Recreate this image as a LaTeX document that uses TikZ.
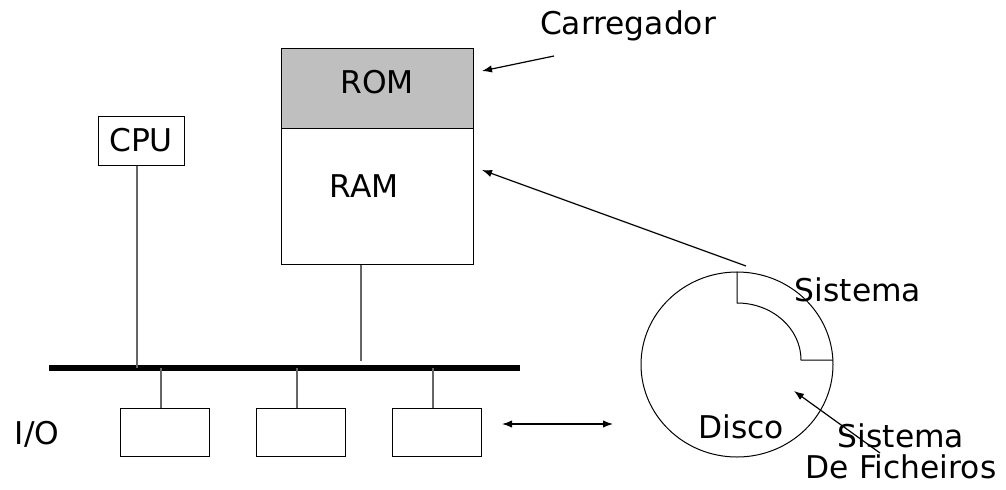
\documentclass[tikz,border=0pt]{standalone}
\usepackage{fontspec}
\setmainfont{DejaVu Sans}
\usetikzlibrary{arrows.meta,shapes.geometric}
\begin{document}
\begin{tikzpicture}[x=0.75pt,y=-0.75pt,
  every node/.style={font=\fontsize{23.5}{23.25}\selectfont, inner sep=0pt},
  box/.style={draw, line width=0.75pt, rectangle},
  wire/.style={line width=0.9pt, black!60},
  ptr/.style={line width=0.9pt, -{Latex[length=7.5pt,width=5.5pt]}},
  dptr/.style={line width=0.9pt, {Latex[length=7.5pt,width=5.5pt]}-{Latex[length=7.5pt,width=5.5pt]}}]
\useasboundingbox (0,0) rectangle (1006,489);

% memory: ROM on top of RAM
\node[box, fill=black!25, minimum width=144pt, minimum height=60pt] (rom) at (377,88) {};
\node (romlabel) at (377,82) {ROM};
\node[box, minimum width=144pt, minimum height=102pt] (ram) at (377,196) {};
\node (ramlabel) at (364,186) {RAM};

% processor
\node[box, minimum width=64.5pt, minimum height=36.75pt] (cpu) at (141,140.5) {CPU};

% system bus
\coordinate (busL) at (49,368);
\coordinate (busR) at (520,368);
\draw[line width=4.5pt] (busL) -- (busR);

% I/O controllers
\node (iolabel) at (37,434) {I/O};
\node[box, minimum width=66.75pt, minimum height=36pt] (io1) at (164.5,432) {};
\node[box, minimum width=66.75pt, minimum height=36pt] (io2) at (300.5,432) {};
\node[box, minimum width=66.75pt, minimum height=36pt] (io3) at (436.5,432) {};

% bus connections
\draw[wire] ([xshift=-3pt]cpu.south) -- ([xshift=-3pt]cpu.south |- busL);
\draw[wire] ([xshift=-12pt]ram.south) -- ++(0,96);
\draw[wire] ([xshift=-2.6pt]io1.north) -- ([xshift=-2.6pt]io1.north |- busL);
\draw[wire] ([xshift=-2.6pt]io2.north) -- ([xshift=-2.6pt]io2.north |- busL);
\draw[wire] ([xshift=-2.6pt]io3.north) -- ([xshift=-2.6pt]io3.north |- busL);

% disk with the system area (quarter sector at the top right)
\node[draw, ellipse, line width=0.75pt, minimum width=144pt, minimum height=138.75pt] (disk) at (737,364.5) {};
\coordinate (sectorEnd) at (833,360);
\draw[line width=0.75pt] (disk.north) -- (737,303)
  .. controls (772.3,303) and (801,328.5) .. (801,360) -- (sectorEnd);
\node (sys) at (858,290) {Sistema};
\node (disklabel) at (741,427) {Disco};
\node[align=center] (fs) at (901,451.5) {Sistema\\De Ficheiros};

% loader
\node (loader) at (628,26) {Carregador};

% arrows
\coordinate (loaderTail) at (554,56);
\coordinate (romHead) at (482,71);
\coordinate (ramHead) at (482,170);
\coordinate (diskTop) at (746,266);
\coordinate (ioHead) at (502,424);
\coordinate (diskLeft) at (613,424);
\coordinate (fsTail) at (880,453);
\coordinate (fsHead) at (794,391);
\draw[ptr] (loaderTail) -- (romHead);
\draw[ptr] (diskTop) -- (ramHead);
\draw[dptr] (ioHead) -- (diskLeft);
\draw[ptr] (fsTail) -- (fsHead);
\end{tikzpicture}
\end{document}
